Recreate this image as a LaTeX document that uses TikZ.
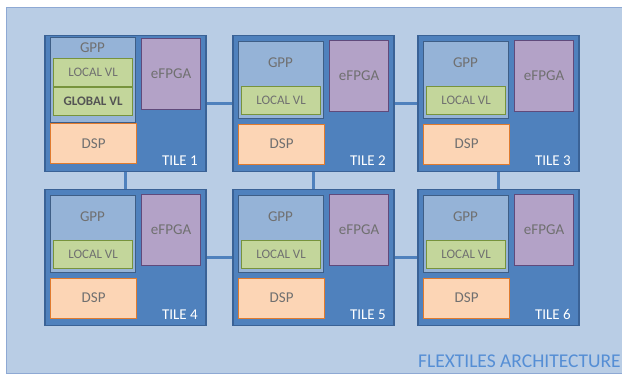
\documentclass[tikz,border=0pt]{standalone}
\usepackage{fontspec}
\setmainfont{Carlito}
\usepackage{xcolor}
\usepackage{tikz}

\definecolor{bgfill}{HTML}{B9CDE5}
\definecolor{bgedge}{HTML}{8EA9D4}
\definecolor{tilefill}{HTML}{4F81BD}
\definecolor{tileedge}{HTML}{3A6296}
\definecolor{gppfill}{HTML}{95B3D7}
\definecolor{gppedge}{HTML}{3E5E86}
\definecolor{vlfill}{HTML}{C3D69B}
\definecolor{vledge}{HTML}{77933C}
\definecolor{fpgafill}{HTML}{B3A2C7}
\definecolor{fpgaedge}{HTML}{604A7B}
\definecolor{dspfill}{HTML}{FCD5B5}
\definecolor{dspedge}{HTML}{E07B2E}
\definecolor{labelgray}{HTML}{707070}
\definecolor{titleblue}{HTML}{558ED5}

\begin{document}
\begin{tikzpicture}[x=1pt, y=-1pt,
            part/.style={draw, rectangle, anchor=north west, inner sep=0pt, line width=1.2pt},
            tile/.style={part, draw=tileedge, fill=tilefill, line width=1.6pt, minimum width=161pt, minimum height=136pt},
            gpp/.style={part, draw=gppedge, fill=gppfill, minimum width=85pt, minimum height=77pt},
            vl/.style={part, draw=vledge, fill=vlfill, minimum width=79pt, minimum height=28pt, text=labelgray, font=\fontsize{13}{15}\selectfont},
            fpga/.style={part, draw=fpgaedge, fill=fpgafill, minimum width=59pt, minimum height=71pt, text=labelgray, font=\fontsize{15}{17}\selectfont},
            dsp/.style={part, draw=dspedge, fill=dspfill, minimum width=86pt, minimum height=40pt, text=labelgray, font=\fontsize{15}{17}\selectfont},
            txt/.style={inner sep=0pt, text=labelgray, font=\fontsize{15}{17}\selectfont},
            tilename/.style={inner sep=0pt, anchor=base east, text=white, font=\fontsize{15}{17}\selectfont},
            link/.style={draw=tilefill, line width=2.6pt}
            ]
 
            \useasboundingbox (0,0) rectangle (622,376);

            % Background panel
            \node[part, draw=bgedge, fill=bgfill, line width=1pt, minimum width=630pt, minimum height=366pt] (board) at (6,7) {};

            % Tile 1 (GPP with local and global VL)
            \begin{scope}[shift={(44,34.5)}]
            \node[tile] (tile1) at (0,0) {};
            \node[gpp, minimum height=85pt] (gpp1) at (6,2.5) {};
            \node[txt] (gpplbl1) at (48.5,13) {GPP};
            \node[vl] (lvl1) at (9,23.5) {LOCAL VL};
            \node[vl, font=\fontsize{13}{15}\selectfont\bfseries, text=labelgray!75!black] (gvl1) at (9,52.5) {GLOBAL VL};
            \node[fpga] (fpga1) at (97,3.5) {eFPGA};
            \node[dsp] (dsp1) at (6,88.5) {DSP};
            \node[tilename] (name1) at (154,131) {TILE 1};
            \end{scope}

            % Tiles 2 to 6
            \foreach \n/\tx/\ty in {2/232/34.5, 3/417/34.5, 4/44/188.5, 5/232/188.5, 6/417/188.5} {
            \begin{scope}[shift={(\tx,\ty)}]
            \node[tile] (tile\n) at (0,0) {};
            \node[gpp] (gpp\n) at (6,6) {};
            \node[txt] (gpplbl\n) at (48.5,28) {GPP};
            \node[vl] (lvl\n) at (9,51) {LOCAL VL};
            \node[fpga] (fpga\n) at (97,5) {eFPGA};
            \node[dsp] (dsp\n) at (6,89) {DSP};
            \node[tilename] (name\n) at (154,131) {TILE \n};
            \end{scope}
            }

            % Links between tiles
            \draw[link] (tile1.east) -- (tile2.west);
            \draw[link] (tile2.east) -- (tile3.west);
            \draw[link] (tile4.east) -- (tile5.west);
            \draw[link] (tile5.east) -- (tile6.west);
            \draw[link] (tile1.south) -- (tile4.north);
            \draw[link] (tile2.south) -- (tile5.north);
            \draw[link] (tile3.south) -- (tile6.north);

            % Caption
            \node[inner sep=0pt, anchor=base east, text=titleblue, font=\fontsize{19.5}{22}\selectfont] (arch) at (621,367) {FLEXTILES ARCHITECTURE};
        \end{tikzpicture}
\end{document}
